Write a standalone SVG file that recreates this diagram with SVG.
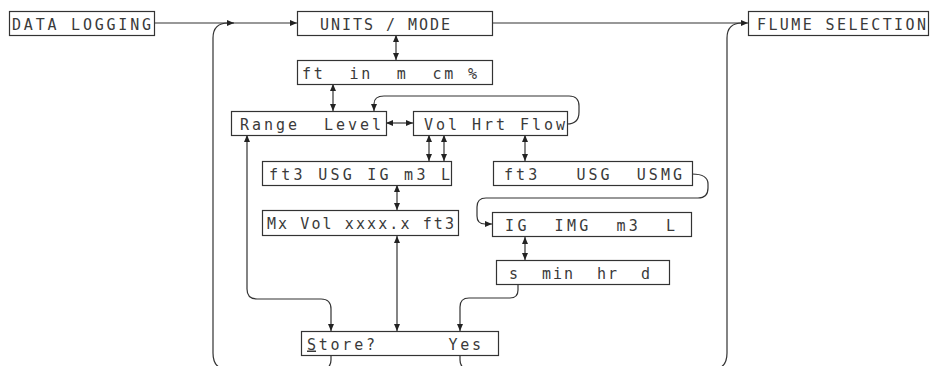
<svg xmlns="http://www.w3.org/2000/svg" width="930" height="366" viewBox="0 0 930 366">
<style>
.box{fill:#fff;stroke:#333;stroke-width:1.2}
.t{font-family:"DejaVu Sans Mono","Liberation Mono",monospace;font-size:15px;fill:#3a3a3a;white-space:pre}
.c{fill:none;stroke:#333;stroke-width:1.2}
.a1{marker-end:url(#ah)}
.a2{marker-start:url(#ah);marker-end:url(#ah)}
</style>
<defs>
<marker id="ah" markerUnits="userSpaceOnUse" markerWidth="8" markerHeight="7" refX="7" refY="3" orient="auto-start-reverse">
<path d="M0,0 L7,3 L0,6 z" fill="#222"/>
</marker>
</defs>
<rect width="930" height="366" fill="#fff"/>
<g id="connectors">
<path class="c a1" d="M155,23 H297"/>
<path class="c a1" d="M493,23 H748"/>
<path class="c a1" d="M224,369 Q213,367 213,353 V38 Q213,23 228,23 H234"/>
<path class="c" d="M716,369 Q727,367 727,353 V38 Q727,23 742,23"/>
<path class="c a2" d="M396,35 V60"/>
<path class="c a2" d="M333,84 V111"/>
<path class="c a2" d="M386,123 H413"/>
<path class="c a1" d="M567,124 Q579,124 579,112 V106 Q579,96 569,96 H384 Q374,96 374,104 V111"/>
<path class="c a2" d="M429,135 V161"/>
<path class="c a2" d="M444,135 V161"/>
<path class="c a2" d="M525,135 V161"/>
<path class="c a2" d="M397,185 V210"/>
<path class="c a2" d="M397,236 V331"/>
<path class="c a2" d="M247,135 V289 Q247,299 257,299 H321 Q331,299 331,309 V331"/>
<path class="c a1" d="M518,285 V290 Q518,298 510,298 H469 Q460,298 460,307 V331"/>
<path class="c a1" d="M692,174 Q708,174 708,184 V188 Q708,198 698,198 H486 Q477,198 477,207 V216 Q477,224 485,224 H492"/>
<path class="c a2" d="M525,237 V260"/>
<path class="c" d="M331,356 V360 Q331,367 325,369"/>
<path class="c" d="M460,356 V360 Q460,367 466,369"/>
</g>
<g id="data-logging"><rect class="box" x="9.5" y="11.5" width="145" height="24"/><text class="t" x="12" y="29.5" textLength="139" lengthAdjust="spacing">DATA LOGGING</text></g>
<g id="units-mode"><rect class="box" x="297.5" y="11.5" width="195" height="24"/><text class="t" x="320" y="29.5" textLength="130" lengthAdjust="spacing">UNITS / MODE</text></g>
<g id="flume-selection"><rect class="box" x="748.5" y="11.5" width="180" height="24"/><text class="t" x="757" y="29.5" textLength="169" lengthAdjust="spacing">FLUME SELECTION</text></g>
<g id="units"><rect class="box" x="297.5" y="60.5" width="195" height="24"/><text class="t" x="302" y="78.5" textLength="175" lengthAdjust="spacing">ft  in  m  cm %</text></g>
<g id="range-level"><rect class="box" x="231.5" y="111.5" width="155" height="24"/><text class="t" x="240" y="129.5" textLength="141" lengthAdjust="spacing">Range  Level</text></g>
<g id="vol-hrt-flow"><rect class="box" x="413.5" y="111.5" width="154" height="24"/><text class="t" x="424" y="129.5" textLength="141" lengthAdjust="spacing">Vol Hrt Flow</text></g>
<g id="vol-units"><rect class="box" x="262.5" y="161.5" width="189" height="24"/><text class="t" x="269" y="179.5" textLength="181" lengthAdjust="spacing">ft3 USG IG m3 L</text></g>
<g id="flow-units-1"><rect class="box" x="493.5" y="161.5" width="199" height="24"/><text class="t" x="504" y="179.5" textLength="178" lengthAdjust="spacing">ft3   USG  USMG</text></g>
<g id="max-vol"><rect class="box" x="262.5" y="210.5" width="196" height="25"/><text class="t" x="267" y="229" textLength="187" lengthAdjust="spacing">Mx Vol xxxx.x ft3</text></g>
<g id="flow-units-2"><rect class="box" x="492.5" y="212.5" width="199" height="24"/><text class="t" x="505" y="230.5" textLength="170" lengthAdjust="spacing">IG  IMG  m3  L</text></g>
<g id="time-units"><rect class="box" x="496.5" y="260.5" width="173" height="24"/><text class="t" x="509" y="278.5" textLength="141" lengthAdjust="spacing">s  min  hr  d</text></g>
<g id="store"><rect class="box" x="301.5" y="331.5" width="197" height="24"/><text class="t" x="307" y="349.5" textLength="174" lengthAdjust="spacing"><tspan text-decoration="underline">S</tspan>tore?      Yes</text></g>
</svg>
